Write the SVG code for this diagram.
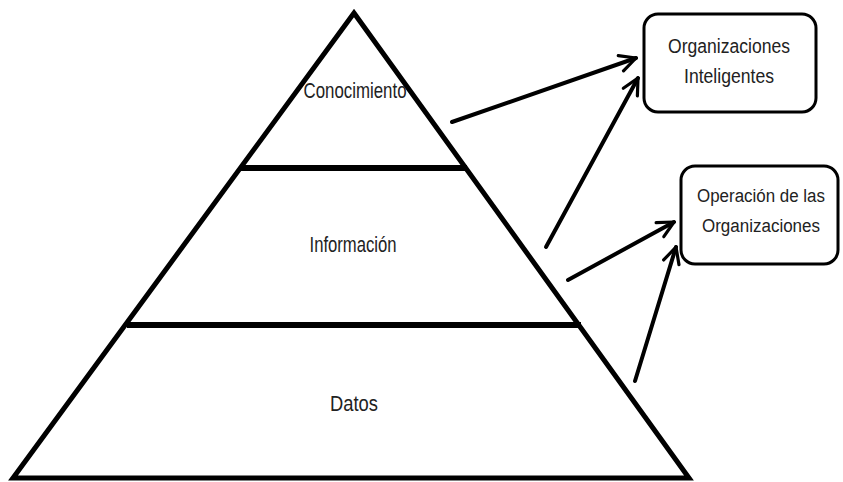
<svg xmlns="http://www.w3.org/2000/svg" width="843" height="482" viewBox="0 0 843 482">
  <style>
    .edge { stroke: #000; stroke-width: 5; fill: none; stroke-linejoin: miter; }
    .band { stroke: #000; stroke-width: 6; }
    .box { fill: #fff; stroke: #000; stroke-width: 3; }
    .lbl { font-family: "Liberation Sans", Arial, sans-serif; fill: #222; text-anchor: middle; }
    .conn { stroke: #000; stroke-width: 4; fill: none; stroke-linecap: round; }
  </style>
  <defs>
    <marker id="arrow" viewBox="0 0 10 10" refX="9" refY="5" markerWidth="5" markerHeight="5" orient="auto" markerUnits="strokeWidth">
      <polyline points="1,1 9,5 1,9" fill="none" stroke="#000" stroke-width="1.6" stroke-linecap="round" stroke-linejoin="round"/>
    </marker>
  </defs>
  <rect width="843" height="482" fill="#fff"/>

  <!-- pyramid levels -->
  <g id="pyramid">
    <polygon class="edge" points="354,13 689,478 13,478"/>
    <line class="band" x1="240" y1="168" x2="467" y2="168"/>
    <line class="band" x1="127" y1="325" x2="581" y2="325"/>
  </g>
  <g id="conocimiento">
    <text class="lbl" x="355" y="98" font-size="22" textLength="103" lengthAdjust="spacingAndGlyphs">Conocimiento</text>
  </g>
  <g id="informacion">
    <text class="lbl" x="353" y="252" font-size="22" textLength="87" lengthAdjust="spacingAndGlyphs">Información</text>
  </g>
  <g id="datos">
    <text class="lbl" x="354" y="411" font-size="22" textLength="48" lengthAdjust="spacingAndGlyphs">Datos</text>
  </g>

  <!-- outcome boxes -->
  <g id="organizaciones-inteligentes">
    <rect class="box" x="644" y="14" width="172" height="98" rx="14"/>
    <text class="lbl" x="729" y="53" font-size="20" textLength="122" lengthAdjust="spacingAndGlyphs">Organizaciones</text>
    <text class="lbl" x="729" y="83" font-size="20" textLength="90" lengthAdjust="spacingAndGlyphs">Inteligentes</text>
  </g>
  <g id="operacion-organizaciones">
    <rect class="box" x="681" y="166" width="157" height="98" rx="14"/>
    <text class="lbl" x="761" y="202" font-size="18" textLength="128" lengthAdjust="spacingAndGlyphs">Operación de las</text>
    <text class="lbl" x="761" y="232" font-size="18" textLength="118" lengthAdjust="spacingAndGlyphs">Organizaciones</text>
  </g>

  <!-- connectors -->
  <g id="connectors">
    <line class="conn" x1="452" y1="122" x2="636" y2="58" marker-end="url(#arrow)"/>
    <line class="conn" x1="546" y1="247" x2="638" y2="78" marker-end="url(#arrow)"/>
    <line class="conn" x1="568" y1="280" x2="674" y2="222" marker-end="url(#arrow)"/>
    <line class="conn" x1="635" y1="381" x2="676" y2="247" marker-end="url(#arrow)"/>
  </g>
</svg>
